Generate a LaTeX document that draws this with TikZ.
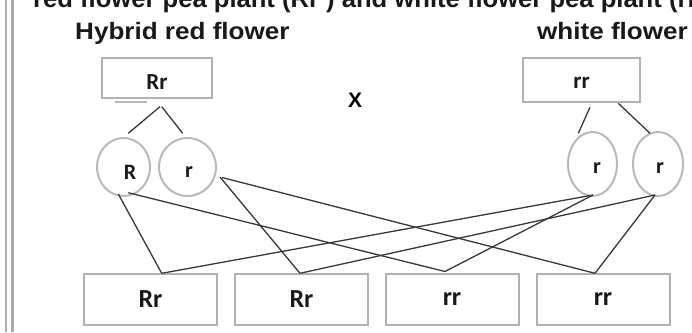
\documentclass[tikz,border=0pt]{standalone}
\usepackage{graphicx}
\usepackage{fontspec}
\setmainfont{Liberation Sans}
\newfontfamily\carl{Carlito}
\usetikzlibrary{shapes.geometric}
\begin{document}
\begin{tikzpicture}[x=1pt,y=-1pt,
  box/.style={draw=gray!60, line width=2pt, fill=white, inner sep=0pt,
    font=\carl\bfseries\fontsize{26}{26}\selectfont, text=black!90},
  topbox/.style={box, minimum height=40pt, font=\carl\bfseries\fontsize{23}{23}\selectfont},
  botbox/.style={box, minimum width=133pt, minimum height=51pt},
  oval/.style={ellipse, draw=gray!55, line width=2pt, inner sep=0pt},
  lett/.style={font=\carl\bfseries\fontsize{22}{22}\selectfont, text=black!90, inner sep=0pt},
  head/.style={font=\bfseries\fontsize{23.7}{28}\selectfont, text=black!90, inner sep=0pt, anchor=base west},
  conn/.style={draw=black!78, line width=1.3pt},
  edge/.style={draw=gray!65, line width=2.3pt},
  ]
\clip (0,0) rectangle (692,332);
\fill[white] (0,0) rectangle (692,332);
% left border
\coordinate (e1a) at (6,0); \coordinate (e1b) at (6,332);
\coordinate (e2a) at (12.5,0); \coordinate (e2b) at (12.5,332);
\draw[edge] (e1a) -- (e1b);
\draw[edge] (e2a) -- (e2b);
% titles
\node[head, font=\bfseries\fontsize{25.6}{30}\selectfont] (title) at (33,7) {red flower pea plant (Rr ) and white flower pea plant (rr)};
\node[head] (hl) at (75,39) {\scalebox{1.1}[1]{Hybrid red flower}};
\node[head] (hr) at (537,39) {\scalebox{1.1}[1]{white flower}};
% parents
\node[topbox, minimum width=110pt, text height=22pt, text depth=0pt] (pRr) at (157,78) {Rr};
\node[topbox, minimum width=117pt, minimum height=44pt, text height=17pt, text depth=0pt] (prr) at (581.5,80) {rr};
\coordinate (ul1) at (115,102); \coordinate (ul2) at (147,102);
\draw[draw=gray!55, line width=2pt] (ul1) -- (ul2);
\node[font=\bfseries\fontsize{21}{21}\selectfont, inner sep=0pt] (cross) at (355,100) {X};
% gametes
\node[oval, minimum width=53pt, minimum height=58pt,
  label={[lett, xshift=6.5pt, yshift=-5pt]center:R}] (gR) at (123.5,167) {};
\node[oval, minimum width=57pt, minimum height=58pt,
  label={[lett, xshift=1.5pt, yshift=-5pt]center:r}] (gr1) at (187.5,167) {};
\node[oval, minimum width=49pt, minimum height=64pt,
  label={[lett, xshift=4.5pt, yshift=-4pt]center:r}] (gr2) at (592.5,164) {};
\node[oval, minimum width=50pt, minimum height=64pt,
  label={[lett, xshift=2pt, yshift=-4pt]center:r}] (gr3) at (658,164) {};
% offspring
\node[botbox] (o1) at (150.5,299.5) {Rr};
\node[botbox] (o2) at (301.5,299.5) {Rr};
\node[botbox] (o3) at (452,299.5) {rr};
\node[botbox] (o4) at (603,299.5) {rr};
% connector end points
\coordinate (pL1) at (160,106.7); \coordinate (gRt) at (128.3,133.3);
\coordinate (pL2) at (161.7,106.7); \coordinate (gr1t) at (182.7,133.3);
\coordinate (pR1) at (590,107.3); \coordinate (gr2t) at (578.3,133.3);
\coordinate (pR2) at (618.3,103.3); \coordinate (gr3t) at (650,133.3);
\coordinate (gRa) at (118.3,194); \coordinate (gRb) at (128.3,192.7);
\coordinate (gr1a) at (220,177); \coordinate (gr1b) at (222,177.5);
\coordinate (gr2a) at (593,195);
\coordinate (gr3a) at (655,195);
\coordinate (o1t) at (161.7,273.3);
\coordinate (o2t) at (300,273.3);
\coordinate (o3t) at (445,271.5);
\coordinate (o4t) at (595,273.3);
% connectors
\draw[conn] (pL1) -- (gRt);
\draw[conn] (pL2) -- (gr1t);
\draw[conn] (pR1) -- (gr2t);
\draw[conn] (pR2) -- (gr3t);
\draw[conn] (gRa) -- (o1t);
\draw[conn] (gRb) -- (o3t);
\draw[conn] (gr1a) -- (o2t);
\draw[conn] (gr1b) -- (o4t);
\draw[conn] (gr2a) -- (o1t);
\draw[conn] (gr2a) -- (o3t);
\draw[conn] (gr3a) -- (o2t);
\draw[conn] (gr3a) -- (o4t);
\end{tikzpicture}
\end{document}
